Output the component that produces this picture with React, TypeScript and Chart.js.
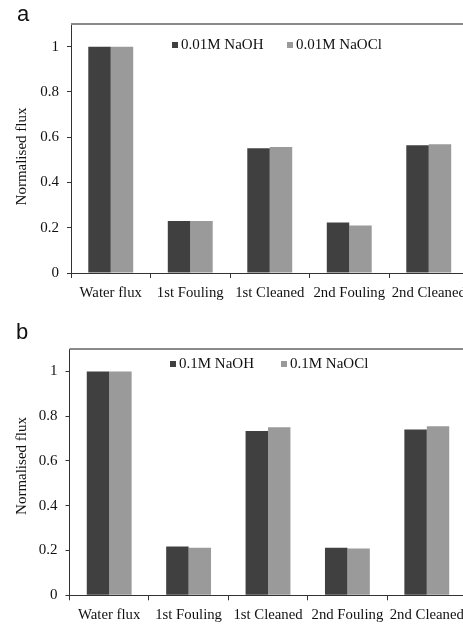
import React, { useEffect, useRef } from "react";
import { Chart, registerables } from "chart.js";

Chart.register(...registerables);

const categories = ["Water flux", "1st Fouling", "1st Cleaned", "2nd Fouling", "2nd Cleaned"];
const yTicks = [0, 0.2, 0.4, 0.6, 0.8, 1];
const yMax = 1.1;
const yTitle = "Normalised flux";

const labelsA = ["0.01M NaOH", "0.01M NaOCl"];
const naohA = [1, 0.23, 0.551, 0.223, 0.564];
const naoclA = [1, 0.23, 0.557, 0.21, 0.569];

const labelsB = ["0.1M NaOH", "0.1M NaOCl"];
const naohB = [1, 0.218, 0.734, 0.212, 0.741];
const naoclB = [1, 0.212, 0.75, 0.2095, 0.755];

const DARK = "#404040";
const LIGHT = "#9a9a9a";
const TEXT = "#111";
const SERIF = "'Liberation Serif', 'Times New Roman', serif";

type PanelProps = {
  width: number;
  height: number;
  top: number;
  areaLeft: number;
  areaTop: number;
  areaBottom: number;
  padRight: number;
  labels: string[];
  s1: number[];
  s2: number[];
  legendX: [number, number];
  legendDy: number;
  titleX: number;
  titleY: number;
};

function Panel(p: PanelProps) {
  const ref = useRef<HTMLCanvasElement | null>(null);
  useEffect(() => {
    if (!ref.current) return;
    const decoPlugin = {
      id: "deco",
      afterDraw(chart: any) {
        const { ctx, chartArea } = chart;
        ctx.save();
        // frame top / right line
        ctx.strokeStyle = "#8a8a8a";
        ctx.lineWidth = 2;
        ctx.beginPath();
        ctx.moveTo(chartArea.left, chartArea.top);
        ctx.lineTo(chartArea.right, chartArea.top);
        ctx.lineTo(chartArea.right, chartArea.bottom);
        ctx.stroke();
        // legend inside plot
        const y = chartArea.top + p.legendDy;
        chart.data.datasets.forEach((ds: any, i: number) => {
          const x = chartArea.left + p.legendX[i];
          ctx.fillStyle = ds.backgroundColor;
          ctx.fillRect(x, y - 3, 6, 6);
          ctx.fillStyle = TEXT;
          ctx.font = `15px ${SERIF}`;
          ctx.textBaseline = "middle";
          ctx.textAlign = "left";
          ctx.fillText(ds.label, x + 9, y + 0.5);
        });
        // y axis title
        ctx.translate(p.titleX, p.titleY);
        ctx.rotate(-Math.PI / 2);
        ctx.fillStyle = TEXT;
        ctx.font = `15px ${SERIF}`;
        ctx.textAlign = "center";
        ctx.textBaseline = "middle";
        ctx.fillText(yTitle, 0, 0);
        ctx.restore();
      },
    };
    const chart = new Chart(ref.current, {
      type: "bar",
      data: {
        labels: categories,
        datasets: [
          { label: p.labels[0], data: p.s1, backgroundColor: DARK, borderWidth: 0 },
          { label: p.labels[1], data: p.s2, backgroundColor: LIGHT, borderWidth: 0 },
        ],
      },
      options: {
        responsive: false,
        animation: false,
        devicePixelRatio: 1,
        layout: { padding: { top: p.areaTop, left: 0, right: p.padRight, bottom: 0 } },
        plugins: { legend: { display: false }, tooltip: { enabled: false } },
        datasets: { bar: { categoryPercentage: 0.565, barPercentage: 1 } },
        scales: {
          x: {
            offset: true,
            grid: { display: true, drawOnChartArea: false, color: "#333", tickLength: 5, offset: true },
            border: { display: true, color: "#333", width: 1 },
            ticks: {
              color: TEXT,
              font: { family: SERIF, size: 14.75 },
              maxRotation: 0,
              minRotation: 0,
              autoSkip: false,
              padding: 6,
            },
            afterFit: (s: any) => {
              s.height = p.height - p.areaBottom;
            },
          },
          y: {
            min: 0,
            max: yMax,
            grid: { display: true, drawOnChartArea: false, color: "#333", tickLength: 4 },
            border: { display: true, color: "#333", width: 1 },
            ticks: {
              color: TEXT,
              font: { family: SERIF, size: 15 },
              padding: 8,
              callback: (v: any) => String(v),
            },
            afterBuildTicks: (s: any) => {
              s.ticks = yTicks.map((v) => ({ value: v }));
            },
            title: { display: false },
            afterFit: (s: any) => {
              s.width = p.areaLeft;
            },
          },
        },
      },
      plugins: [decoPlugin],
    } as any);
    return () => chart.destroy();
  }, []);
  return (
    <canvas
      ref={ref}
      width={p.width}
      height={p.height}
      style={{ position: "absolute", left: 0, top: p.top, width: p.width, height: p.height }}
    />
  );
}

export default function App() {
  return (
    <div
      style={{
        position: "fixed",
        left: 0,
        top: 0,
        width: 463,
        height: 625,
        overflow: "hidden",
        background: "#fff",
      }}
    >
      <Panel
        width={477}
        height={300}
        top={0}
        areaLeft={71}
        areaTop={24}
        areaBottom={273}
        padRight={8.5}
        labels={labelsA}
        s1={naohA}
        s2={naoclA}
        legendX={[101, 216]}
        legendDy={21}
        titleX={22}
        titleY={156.5}
      />
      <Panel
        width={475}
        height={325}
        top={300}
        areaLeft={69.5}
        areaTop={49}
        areaBottom={295.3}
        padRight={8.5}
        labels={labelsB}
        s1={naohB}
        s2={naoclB}
        legendX={[100.5, 211.5]}
        legendDy={15}
        titleX={22}
        titleY={166}
      />
      <div
        style={{
          position: "absolute",
          left: 17,
          top: 1,
          fontFamily: "'Liberation Sans', Arial, sans-serif",
          fontSize: 22,
          color: "#111",
        }}
      >
        a
      </div>
      <div
        style={{
          position: "absolute",
          left: 16,
          top: 319,
          fontFamily: "'Liberation Sans', Arial, sans-serif",
          fontSize: 22,
          color: "#111",
        }}
      >
        b
      </div>
    </div>
  );
}
